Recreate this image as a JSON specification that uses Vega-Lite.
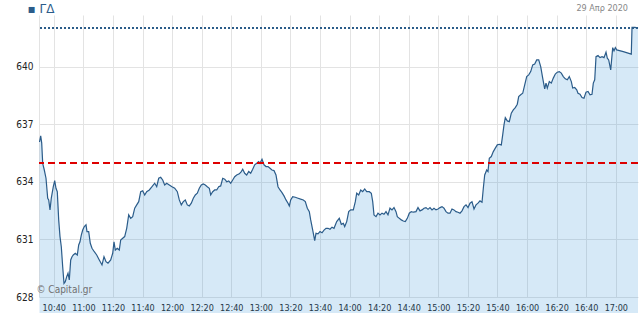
{
  "$schema": "https://vega.github.io/schema/vega-lite/v6.json",
  "width": 599,
  "height": 282,
  "autosize": {"type": "none"},
  "padding": {"left": 39, "top": 15, "right": 2, "bottom": 16},
  "background": "white",
  "config": {
    "view": {"stroke": null},
    "axis": {"gridColor": "#e3e3e3", "grid": true, "ticks": false, "labelColor": "#222"}
  },
  "data": {
    "values": [
      {"t":"2020-04-29T10:30:20","v":636.08},{"t":"2020-04-29T10:31:09","v":636.40},{"t":"2020-04-29T10:31:50","v":636.02},{"t":"2020-04-29T10:32:30","v":634.97},
      {"t":"2020-04-29T10:33:35","v":634.62},{"t":"2020-04-29T10:34:44","v":634.19},{"t":"2020-04-29T10:35:53","v":633.15},{"t":"2020-04-29T10:36:34","v":633.06},
      {"t":"2020-04-29T10:37:26","v":632.54},{"t":"2020-04-29T10:38:19","v":633.15},{"t":"2020-04-29T10:39:40","v":633.75},{"t":"2020-04-29T10:40:37","v":634.07},
      {"t":"2020-04-29T10:41:29","v":633.67},{"t":"2020-04-29T10:42:22","v":633.49},{"t":"2020-04-29T10:43:19","v":632.02},{"t":"2020-04-29T10:44:12","v":631.15},
      {"t":"2020-04-29T10:45:05","v":630.62},{"t":"2020-04-29T10:46:01","v":629.58},{"t":"2020-04-29T10:46:54","v":628.71},{"t":"2020-04-29T10:47:47","v":628.80},
      {"t":"2020-04-29T10:48:44","v":629.06},{"t":"2020-04-29T10:49:37","v":629.24},{"t":"2020-04-29T10:50:29","v":628.89},{"t":"2020-04-29T10:51:26","v":629.93},
      {"t":"2020-04-29T10:52:19","v":630.10},{"t":"2020-04-29T10:53:11","v":630.19},{"t":"2020-04-29T10:54:32","v":630.28},{"t":"2020-04-29T10:55:54","v":630.19},
      {"t":"2020-04-29T10:56:50","v":630.71},{"t":"2020-04-29T10:57:43","v":630.88},{"t":"2020-04-29T10:58:36","v":631.23},{"t":"2020-04-29T10:59:33","v":631.49},
      {"t":"2020-04-29T11:00:38","v":631.67},{"t":"2020-04-29T11:01:47","v":631.76},{"t":"2020-04-29T11:02:27","v":631.41},{"t":"2020-04-29T11:03:36","v":631.41},
      {"t":"2020-04-29T11:04:41","v":630.80},{"t":"2020-04-29T11:05:50","v":630.54},{"t":"2020-04-29T11:07:23","v":630.36},{"t":"2020-04-29T11:09:01","v":630.19},
      {"t":"2020-04-29T11:10:46","v":629.93},{"t":"2020-04-29T11:12:36","v":629.67},{"t":"2020-04-29T11:13:57","v":630.10},{"t":"2020-04-29T11:15:18","v":629.84},
      {"t":"2020-04-29T11:16:39","v":629.76},{"t":"2020-04-29T11:18:29","v":629.93},{"t":"2020-04-29T11:19:50","v":630.28},{"t":"2020-04-29T11:20:43","v":630.88},
      {"t":"2020-04-29T11:21:35","v":630.45},{"t":"2020-04-29T11:22:56","v":630.54},{"t":"2020-04-29T11:24:17","v":630.45},{"t":"2020-04-29T11:25:14","v":630.97},
      {"t":"2020-04-29T11:26:35","v":631.06},{"t":"2020-04-29T11:27:56","v":631.15},{"t":"2020-04-29T11:29:18","v":631.58},{"t":"2020-04-29T11:30:39","v":632.28},
      {"t":"2020-04-29T11:32:00","v":632.10},{"t":"2020-04-29T11:33:21","v":632.19},{"t":"2020-04-29T11:34:43","v":632.63},{"t":"2020-04-29T11:36:04","v":632.80},
      {"t":"2020-04-29T11:37:25","v":632.97},{"t":"2020-04-29T11:38:46","v":633.49},{"t":"2020-04-29T11:40:07","v":633.54},{"t":"2020-04-29T11:41:28","v":633.32},
      {"t":"2020-04-29T11:42:49","v":633.49},{"t":"2020-04-29T11:44:35","v":633.58},{"t":"2020-04-29T11:46:24","v":633.75},{"t":"2020-04-29T11:48:14","v":633.93},
      {"t":"2020-04-29T11:49:35","v":633.75},{"t":"2020-04-29T11:50:56","v":634.19},{"t":"2020-04-29T11:52:17","v":634.24},{"t":"2020-04-29T11:53:38","v":634.10},
      {"t":"2020-04-29T11:54:59","v":633.84},{"t":"2020-04-29T11:56:20","v":633.93},{"t":"2020-04-29T11:58:06","v":633.84},{"t":"2020-04-29T11:59:56","v":633.75},
      {"t":"2020-04-29T12:01:45","v":633.67},{"t":"2020-04-29T12:03:31","v":633.49},{"t":"2020-04-29T12:04:52","v":633.06},{"t":"2020-04-29T12:06:13","v":632.80},
      {"t":"2020-04-29T12:07:34","v":632.97},{"t":"2020-04-29T12:08:55","v":633.06},{"t":"2020-04-29T12:10:16","v":632.80},{"t":"2020-04-29T12:11:37","v":632.75},
      {"t":"2020-04-29T12:12:59","v":632.89},{"t":"2020-04-29T12:14:20","v":633.15},{"t":"2020-04-29T12:15:41","v":633.32},{"t":"2020-04-29T12:17:02","v":633.41},
      {"t":"2020-04-29T12:18:23","v":633.67},{"t":"2020-04-29T12:19:44","v":633.84},{"t":"2020-04-29T12:21:05","v":633.89},{"t":"2020-04-29T12:22:26","v":633.84},
      {"t":"2020-04-29T12:23:47","v":633.75},{"t":"2020-04-29T12:25:09","v":633.67},{"t":"2020-04-29T12:26:05","v":633.32},{"t":"2020-04-29T12:27:26","v":633.49},
      {"t":"2020-04-29T12:28:48","v":633.58},{"t":"2020-04-29T12:30:09","v":633.58},{"t":"2020-04-29T12:31:30","v":633.75},{"t":"2020-04-29T12:32:51","v":633.79},
      {"t":"2020-04-29T12:34:13","v":634.19},{"t":"2020-04-29T12:35:34","v":634.14},{"t":"2020-04-29T12:36:55","v":634.01},{"t":"2020-04-29T12:38:16","v":634.05},
      {"t":"2020-04-29T12:39:37","v":633.93},{"t":"2020-04-29T12:40:58","v":634.10},{"t":"2020-04-29T12:42:19","v":634.27},{"t":"2020-04-29T12:43:40","v":634.36},
      {"t":"2020-04-29T12:45:26","v":634.42},{"t":"2020-04-29T12:46:47","v":634.54},{"t":"2020-04-29T12:47:44","v":634.66},{"t":"2020-04-29T12:49:05","v":634.45},
      {"t":"2020-04-29T12:50:26","v":634.36},{"t":"2020-04-29T12:51:47","v":634.54},{"t":"2020-04-29T12:53:08","v":634.45},{"t":"2020-04-29T12:54:29","v":634.66},
      {"t":"2020-04-29T12:55:50","v":634.89},{"t":"2020-04-29T12:57:11","v":634.97},{"t":"2020-04-29T12:58:33","v":635.06},{"t":"2020-04-29T12:59:25","v":634.97},
      {"t":"2020-04-29T13:00:47","v":635.18},{"t":"2020-04-29T13:02:08","v":634.89},{"t":"2020-04-29T13:03:29","v":634.80},{"t":"2020-04-29T13:04:50","v":634.80},
      {"t":"2020-04-29T13:06:11","v":634.71},{"t":"2020-04-29T13:07:32","v":634.62},{"t":"2020-04-29T13:08:53","v":634.59},{"t":"2020-04-29T13:10:14","v":634.36},
      {"t":"2020-04-29T13:11:36","v":633.75},{"t":"2020-04-29T13:12:57","v":633.58},{"t":"2020-04-29T13:14:18","v":633.44},{"t":"2020-04-29T13:15:39","v":633.27},
      {"t":"2020-04-29T13:17:00","v":633.06},{"t":"2020-04-29T13:18:22","v":632.89},{"t":"2020-04-29T13:19:14","v":632.75},{"t":"2020-04-29T13:20:11","v":633.06},
      {"t":"2020-04-29T13:21:32","v":633.23},{"t":"2020-04-29T13:23:17","v":633.20},{"t":"2020-04-29T13:25:07","v":633.15},{"t":"2020-04-29T13:26:56","v":633.10},
      {"t":"2020-04-29T13:28:42","v":633.06},{"t":"2020-04-29T13:30:03","v":632.97},{"t":"2020-04-29T13:31:25","v":632.63},{"t":"2020-04-29T13:32:46","v":632.45},
      {"t":"2020-04-29T13:33:42","v":632.02},{"t":"2020-04-29T13:35:04","v":631.49},{"t":"2020-04-29T13:36:25","v":630.94},{"t":"2020-04-29T13:37:17","v":631.32},
      {"t":"2020-04-29T13:38:38","v":631.29},{"t":"2020-04-29T13:39:59","v":631.41},{"t":"2020-04-29T13:41:21","v":631.35},{"t":"2020-04-29T13:42:42","v":631.49},
      {"t":"2020-04-29T13:44:03","v":631.58},{"t":"2020-04-29T13:45:24","v":631.58},{"t":"2020-04-29T13:46:45","v":631.53},{"t":"2020-04-29T13:48:07","v":631.64},
      {"t":"2020-04-29T13:49:28","v":631.58},{"t":"2020-04-29T13:51:17","v":631.93},{"t":"2020-04-29T13:53:02","v":632.10},{"t":"2020-04-29T13:54:24","v":631.79},
      {"t":"2020-04-29T13:55:45","v":631.84},{"t":"2020-04-29T13:56:41","v":631.67},{"t":"2020-04-29T13:58:03","v":631.93},{"t":"2020-04-29T13:59:24","v":632.45},
      {"t":"2020-04-29T14:00:45","v":632.54},{"t":"2020-04-29T14:02:31","v":632.54},{"t":"2020-04-29T14:03:52","v":632.97},{"t":"2020-04-29T14:04:49","v":633.41},
      {"t":"2020-04-29T14:06:10","v":633.32},{"t":"2020-04-29T14:07:31","v":633.58},{"t":"2020-04-29T14:08:52","v":633.49},{"t":"2020-04-29T14:10:13","v":633.63},
      {"t":"2020-04-29T14:11:34","v":633.49},{"t":"2020-04-29T14:13:20","v":633.49},{"t":"2020-04-29T14:14:41","v":633.41},{"t":"2020-04-29T14:15:38","v":632.97},
      {"t":"2020-04-29T14:16:30","v":632.28},{"t":"2020-04-29T14:17:52","v":632.19},{"t":"2020-04-29T14:19:13","v":632.37},{"t":"2020-04-29T14:20:34","v":632.28},
      {"t":"2020-04-29T14:21:55","v":632.37},{"t":"2020-04-29T14:23:16","v":632.31},{"t":"2020-04-29T14:24:37","v":632.45},{"t":"2020-04-29T14:25:58","v":632.28},
      {"t":"2020-04-29T14:27:19","v":632.63},{"t":"2020-04-29T14:28:40","v":632.54},{"t":"2020-04-29T14:30:02","v":632.66},{"t":"2020-04-29T14:31:23","v":632.45},
      {"t":"2020-04-29T14:32:16","v":632.19},{"t":"2020-04-29T14:33:37","v":632.10},{"t":"2020-04-29T14:34:58","v":632.02},{"t":"2020-04-29T14:36:19","v":631.96},
      {"t":"2020-04-29T14:37:40","v":631.93},{"t":"2020-04-29T14:39:01","v":632.10},{"t":"2020-04-29T14:40:22","v":632.37},{"t":"2020-04-29T14:41:43","v":632.45},
      {"t":"2020-04-29T14:43:05","v":632.42},{"t":"2020-04-29T14:44:54","v":632.45},{"t":"2020-04-29T14:46:15","v":632.66},{"t":"2020-04-29T14:47:37","v":632.49},
      {"t":"2020-04-29T14:48:58","v":632.54},{"t":"2020-04-29T14:50:19","v":632.63},{"t":"2020-04-29T14:51:40","v":632.66},{"t":"2020-04-29T14:53:01","v":632.57},
      {"t":"2020-04-29T14:54:22","v":632.66},{"t":"2020-04-29T14:55:43","v":632.54},{"t":"2020-04-29T14:57:04","v":632.63},{"t":"2020-04-29T14:58:25","v":632.54},
      {"t":"2020-04-29T14:59:47","v":632.59},{"t":"2020-04-29T15:01:08","v":632.66},{"t":"2020-04-29T15:02:29","v":632.71},{"t":"2020-04-29T15:03:50","v":632.63},
      {"t":"2020-04-29T15:05:11","v":632.45},{"t":"2020-04-29T15:06:32","v":632.37},{"t":"2020-04-29T15:07:53","v":632.37},{"t":"2020-04-29T15:09:14","v":632.59},
      {"t":"2020-04-29T15:10:35","v":632.54},{"t":"2020-04-29T15:11:57","v":632.45},{"t":"2020-04-29T15:13:18","v":632.42},{"t":"2020-04-29T15:14:39","v":632.37},
      {"t":"2020-04-29T15:16:00","v":632.49},{"t":"2020-04-29T15:17:22","v":632.71},{"t":"2020-04-29T15:18:43","v":632.80},{"t":"2020-04-29T15:20:04","v":632.66},
      {"t":"2020-04-29T15:21:25","v":632.89},{"t":"2020-04-29T15:22:46","v":632.97},{"t":"2020-04-29T15:24:07","v":632.59},{"t":"2020-04-29T15:25:28","v":632.80},
      {"t":"2020-04-29T15:26:49","v":632.89},{"t":"2020-04-29T15:28:10","v":633.01},{"t":"2020-04-29T15:29:32","v":632.94},{"t":"2020-04-29T15:30:25","v":633.67},
      {"t":"2020-04-29T15:31:21","v":634.36},{"t":"2020-04-29T15:32:43","v":634.62},{"t":"2020-04-29T15:33:35","v":634.54},{"t":"2020-04-29T15:34:28","v":635.23},
      {"t":"2020-04-29T15:35:49","v":635.32},{"t":"2020-04-29T15:37:10","v":635.58},{"t":"2020-04-29T15:38:31","v":635.76},{"t":"2020-04-29T15:39:52","v":635.93},
      {"t":"2020-04-29T15:41:13","v":635.96},{"t":"2020-04-29T15:42:35","v":635.93},{"t":"2020-04-29T15:43:31","v":636.45},{"t":"2020-04-29T15:44:24","v":636.97},
      {"t":"2020-04-29T15:45:17","v":637.35},{"t":"2020-04-29T15:46:38","v":637.18},{"t":"2020-04-29T15:47:59","v":637.14},{"t":"2020-04-29T15:49:20","v":637.58},
      {"t":"2020-04-29T15:50:41","v":637.75},{"t":"2020-04-29T15:52:02","v":637.87},{"t":"2020-04-29T15:53:23","v":638.05},{"t":"2020-04-29T15:54:20","v":638.45},
      {"t":"2020-04-29T15:55:41","v":638.54},{"t":"2020-04-29T15:57:03","v":638.62},{"t":"2020-04-29T15:58:24","v":639.06},{"t":"2020-04-29T15:59:45","v":639.49},
      {"t":"2020-04-29T16:01:06","v":639.58},{"t":"2020-04-29T16:02:27","v":639.75},{"t":"2020-04-29T16:03:49","v":640.10},{"t":"2020-04-29T16:05:10","v":640.14},
      {"t":"2020-04-29T16:06:31","v":640.36},{"t":"2020-04-29T16:07:52","v":640.36},{"t":"2020-04-29T16:09:13","v":640.01},{"t":"2020-04-29T16:10:34","v":639.41},
      {"t":"2020-04-29T16:11:55","v":638.85},{"t":"2020-04-29T16:12:48","v":639.15},{"t":"2020-04-29T16:13:41","v":638.89},{"t":"2020-04-29T16:15:02","v":639.23},
      {"t":"2020-04-29T16:16:23","v":639.15},{"t":"2020-04-29T16:17:44","v":639.41},{"t":"2020-04-29T16:19:05","v":639.62},{"t":"2020-04-29T16:20:26","v":639.72},
      {"t":"2020-04-29T16:21:47","v":639.75},{"t":"2020-04-29T16:23:08","v":639.67},{"t":"2020-04-29T16:24:30","v":639.49},{"t":"2020-04-29T16:25:51","v":639.37},
      {"t":"2020-04-29T16:27:12","v":639.32},{"t":"2020-04-29T16:28:33","v":639.49},{"t":"2020-04-29T16:29:55","v":639.23},{"t":"2020-04-29T16:30:51","v":638.89},
      {"t":"2020-04-29T16:32:12","v":638.92},{"t":"2020-04-29T16:33:34","v":638.80},{"t":"2020-04-29T16:34:26","v":638.62},{"t":"2020-04-29T16:35:47","v":638.57},
      {"t":"2020-04-29T16:37:08","v":638.40},{"t":"2020-04-29T16:38:29","v":638.36},{"t":"2020-04-29T16:39:50","v":638.68},{"t":"2020-04-29T16:41:12","v":638.71},
      {"t":"2020-04-29T16:42:33","v":638.54},{"t":"2020-04-29T16:43:54","v":638.57},{"t":"2020-04-29T16:44:47","v":639.15},{"t":"2020-04-29T16:45:44","v":639.32},
      {"t":"2020-04-29T16:46:37","v":640.53},{"t":"2020-04-29T16:47:58","v":640.59},{"t":"2020-04-29T16:49:19","v":640.48},{"t":"2020-04-29T16:50:40","v":640.53},
      {"t":"2020-04-29T16:52:01","v":640.48},{"t":"2020-04-29T16:53:22","v":640.76},{"t":"2020-04-29T16:54:15","v":640.45},{"t":"2020-04-29T16:55:11","v":640.36},
      {"t":"2020-04-29T16:56:33","v":639.84},{"t":"2020-04-29T16:57:54","v":641.00},{"t":"2020-04-29T16:58:47","v":640.83},{"t":"2020-04-29T16:59:40","v":641.00},
      {"t":"2020-04-29T17:00:36","v":640.88},{"t":"2020-04-29T17:05:04","v":640.79},{"t":"2020-04-29T17:10:28","v":640.66},{"t":"2020-04-29T17:10:57","v":642.05},
      {"t":"2020-04-29T17:12:59","v":642.05},{"t":"2020-04-29T17:15:00","v":642.02}
    ]
  },
  "encoding": {
    "x": {
      "field": "t", "type": "temporal",
      "scale": {"domain": ["2020-04-29T10:30:00", "2020-04-29T17:15:00"]},
      "axis": {"format": "%H:%M", "values": ["2020-04-29T10:40:00","2020-04-29T11:00:00","2020-04-29T11:20:00","2020-04-29T11:40:00","2020-04-29T12:00:00","2020-04-29T12:20:00","2020-04-29T12:40:00","2020-04-29T13:00:00","2020-04-29T13:20:00","2020-04-29T13:40:00","2020-04-29T14:00:00","2020-04-29T14:20:00","2020-04-29T14:40:00","2020-04-29T15:00:00","2020-04-29T15:20:00","2020-04-29T15:40:00","2020-04-29T16:00:00","2020-04-29T16:20:00","2020-04-29T16:40:00","2020-04-29T17:00:00"], "grid": true, "domain": false, "title": null, "labelPadding": 6, "labelFont": "DejaVu Sans Condensed, DejaVu Sans", "labelFontSize": 9, "labelOverlap": false, "labelFlush": false}
    }
  },
  "layer": [
    {
      "mark": {"type": "area", "color": "#3291d7", "fillOpacity": 0.2, "line": {"color": "#2b5c8a", "strokeWidth": 1.2}},
      "encoding": {
        "y": {
          "field": "v", "type": "quantitative",
          "scale": {"domain": [628, 642.7], "nice": false, "zero": false},
          "axis": {"values": [628, 631, 634, 637, 640], "format": "d", "grid": true, "domain": true, "domainColor": "#e3e3e3", "title": null, "labelPadding": 6, "labelFont": "DejaVu Sans Condensed, DejaVu Sans", "labelFontSize": 10}
        }
      }
    },
    {
      "mark": {"type": "rule", "color": "#dd0000", "strokeWidth": 1.3, "strokeDash": [7, 4]},
      "encoding": {"x": null, "y": {"datum": 635}}
    },
    {
      "mark": {"type": "rule", "color": "#2b5c8a", "strokeWidth": 1, "strokeDash": [2, 2]},
      "encoding": {"x": null, "y": {"datum": 642.02}}
    },
    {
      "mark": {"type": "text", "text": "© Capital.gr", "align": "left", "baseline": "middle", "dx": -3, "dy": -7, "font": "DejaVu Sans Condensed, DejaVu Sans", "fontSize": 10, "color": "#707070"},
      "encoding": {
        "x": {"aggregate": "min", "field": "t", "type": "temporal"},
        "y": {"datum": 628}
      }
    },
    {
      "mark": {"type": "text", "text": "29 Απρ 2020", "align": "right", "baseline": "middle", "dx": -10, "dy": -7, "font": "DejaVu Sans Condensed, DejaVu Sans", "fontSize": 9, "color": "#888888"},
      "encoding": {
        "x": {"aggregate": "max", "field": "t", "type": "temporal"},
        "y": {"datum": 642.7}
      }
    },
    {
      "mark": {"type": "text", "text": "▪ ΓΔ", "align": "left", "baseline": "middle", "dx": -12, "dy": -6, "font": "DejaVu Sans", "fontSize": 12, "color": "#2b5c8a"},
      "encoding": {
        "x": {"aggregate": "min", "field": "t", "type": "temporal"},
        "y": {"datum": 642.7}
      }
    }
  ]
}
